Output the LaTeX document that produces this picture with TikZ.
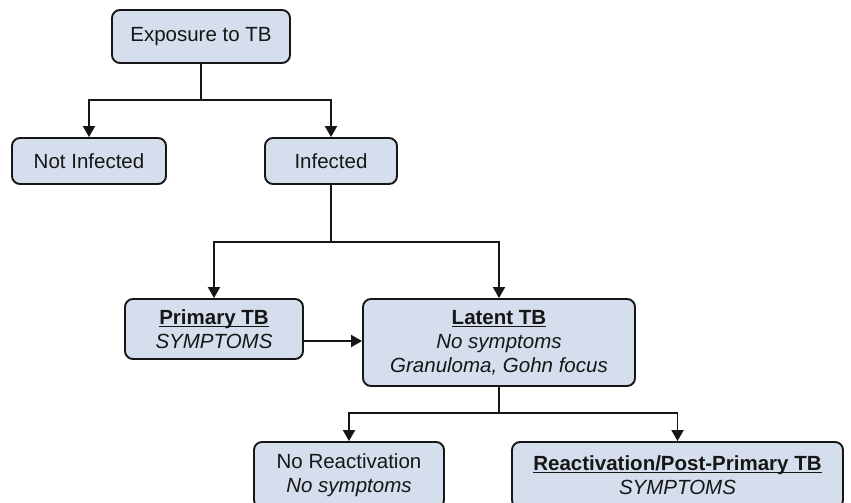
\documentclass[tikz,border=0pt]{standalone}
\usepackage{fontspec}
\setmainfont{Liberation Sans}
\usetikzlibrary{arrows.meta}
\definecolor{boxfill}{RGB}{212,222,237}
\definecolor{ink}{RGB}{22,22,22}
% bold heading with a rule drawn underneath
\newcommand{\headline}[1]{\setbox0\hbox{\textbf{#1}}\rlap{\rule[-2.6pt]{\wd0}{1.3pt}}\box0}
\tikzset{
  box/.style={draw=ink, line width=1.9pt, fill=boxfill, rounded corners=8pt,
    align=center, text=ink, inner sep=0pt,
    font=\fontsize{20.5}{24}\selectfont},
  link/.style={draw=ink, line width=1.9pt},
  arr/.style={link, -{Triangle[length=11pt,width=12pt]}},
}
\begin{document}
\begin{tikzpicture}[x=1pt,y=1pt]
\useasboundingbox (0,0) rectangle (851,-503);

% boxes
\node[box, minimum width=178pt, minimum height=53pt] (expo) at (201,-36.5) {Exposure to TB};
\node[box, minimum width=154pt, minimum height=46pt] (notinf) at (89,-161) {Not Infected};
\node[box, minimum width=132pt, minimum height=46pt] (inf) at (331,-161) {Infected};
\node[box, minimum width=178pt, minimum height=60pt] (prim) at (214,-329)
  {\headline{Primary TB}\\\textit{SYMPTOMS}};
\node[box, minimum width=272pt, minimum height=87pt] (lat) at (499,-342.5)
  {\headline{Latent TB}\\\textit{No symptoms}\\\textit{Granuloma, Gohn focus}};
\node[box, minimum width=190pt, minimum height=66pt] (norea) at (349,-475)
  {No Reactivation\\\textit{No symptoms}};
\node[box, minimum width=331pt, minimum height=66pt] (react) at (677.5,-475)
  {\headline{Reactivation/Post-Primary TB}\\\textit{SYMPTOMS}};

% branch points
\coordinate (j1) at (201,-100);
\coordinate (j2) at (331,-242);
\coordinate (j3) at (499,-413);

% connectors
\draw[link] (expo) -- (j1);
\draw[arr] (j1) -| (notinf);
\draw[arr] (j1) -| (inf);

\draw[link] (inf) -- (j2);
\draw[arr] (j2) -| (prim);
\draw[arr] (j2) -| (lat);

\draw[arr] ([yshift=-12pt]prim.east) -- ([yshift=-12pt]prim.east -| lat.west);

\draw[link] (lat) -- (j3);
\draw[arr] (j3) -| (norea);
\draw[arr] (j3) -| (react);
\end{tikzpicture}
\end{document}
